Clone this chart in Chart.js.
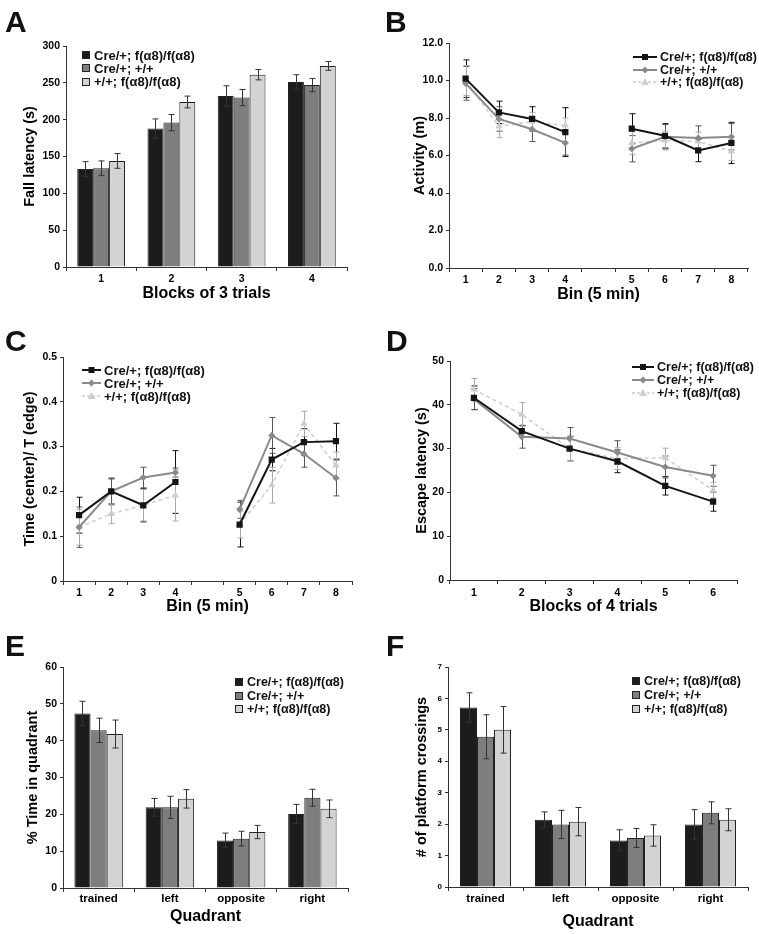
<!DOCTYPE html>
<html>
<head>
<meta charset="utf-8">
<script src="https://cdn.jsdelivr.net/npm/chart.js@4.4.1/dist/chart.umd.min.js"></script>
<style>
body { margin: 0; background: #fff; width: 759px; height: 934px; position: relative; overflow: hidden;
       font-family: 'Liberation Sans', Arial, sans-serif; }
canvas { position: absolute; }
.letter { position: absolute; font-size: 30px; font-weight: bold; line-height: 30px; color: #111; }
.legend { position: absolute; font-weight: bold; white-space: nowrap; color: #111; }
.legend .row { display: flex; align-items: center; }
.legend .sw { display: inline-block; width: 6px; height: 6px; border: 1px solid #222; margin-right: 4px; }
.legend svg { margin-right: 3px; }
</style>
</head>
<body>
<canvas id="cA" width="380" height="310" style="left:0;top:0"></canvas>
<canvas id="cB" width="379" height="310" style="left:380px;top:0"></canvas>
<canvas id="cC" width="380" height="310" style="left:0;top:310px"></canvas>
<canvas id="cD" width="379" height="310" style="left:380px;top:310px"></canvas>
<canvas id="cE" width="380" height="314" style="left:0;top:620px"></canvas>
<canvas id="cF" width="379" height="314" style="left:380px;top:620px"></canvas>

<div class="letter" style="left:5px;top:7px">A</div>
<div class="letter" style="left:385px;top:7px">B</div>
<div class="letter" style="left:5px;top:326px">C</div>
<div class="letter" style="left:386px;top:326px">D</div>
<div class="letter" style="left:5px;top:631px">E</div>
<div class="letter" style="left:386px;top:631px">F</div>

<script>
// --- Series names and labels ---
const seriesNames = ['Cre/+; f(\u03b18)/f(\u03b18)', 'Cre/+; +/+', '+/+; f(\u03b18)/f(\u03b18)'];
const blocks3 = ['1', '2', '3', '4'];
const bins = ['1', '2', '3', '4', '', '5', '6', '7', '8'];
const blocks4 = ['1', '2', '3', '4', '5', '6'];
const quadrants = ['trained', 'left', 'opposite', 'right'];

// --- A: fall latency (s) ---
const fallCreFlox = [133, 188, 232, 251];
const fallCreWt = [134, 196, 230, 247];
const fallWtFlox = [144, 224, 261, 273];
const fallCreFloxErr = [10, 13, 14, 10];
const fallCreWtErr = [10, 11, 11, 9];
const fallWtFloxErr = [10, 8, 7, 6];

// --- B: activity (m), gap between bin 4 and 5 ---
const actCreFlox = [10.1, 8.3, 7.95, 7.25, null, 7.43, 7.05, 6.27, 6.67];
const actCreWt = [9.85, 7.95, 7.4, 6.67, null, 6.36, 7.0, 6.93, 7.0];
const actWtFlox = [10.0, 7.55, 7.8, 7.6, null, 6.67, 6.8, 6.75, 6.22];
const actCreFloxErr = [1.0, 0.6, 0.65, 1.3, null, 0.8, 0.65, 0.6, 1.1];
const actCreWtErr = [0.9, 0.65, 0.65, 0.65, null, 0.7, 0.65, 0.65, 0.7];
const actWtFloxErr = [0.8, 0.6, 0.5, 0.4, null, 0.6, 0.5, 0.5, 0.5];

// --- C: time center / time edge ---
const ratioCreFlox = [0.147, 0.2, 0.169, 0.221, null, 0.126, 0.271, 0.31, 0.312];
const ratioCreWt = [0.12, 0.2, 0.231, 0.242, null, 0.16, 0.325, 0.284, 0.23];
const ratioWtFlox = [0.12, 0.15, 0.169, 0.191, null, 0.126, 0.214, 0.351, 0.258];
const ratioCreFloxErr = [0.04, 0.028, 0.037, 0.07, null, 0.05, 0.025, 0.03, 0.04];
const ratioCreWtErr = [0.045, 0.03, 0.023, 0.01, null, 0.02, 0.04, 0.03, 0.04];
const ratioWtFloxErr = [0.04, 0.022, 0.035, 0.057, null, 0.03, 0.04, 0.028, 0.03];

// --- D: escape latency (s) ---
const escCreFlox = [41.6, 34.0, 30.0, 27.1, 21.5, 17.9];
const escCreWt = [41.3, 32.7, 32.3, 29.1, 25.8, 23.8];
const escWtFlox = [43.5, 37.8, 30.0, 27.7, 27.9, 20.5];
const escCreFloxErr = [2.7, 1.3, 2.8, 2.6, 2.1, 2.2];
const escCreWtErr = [2.4, 2.6, 2.5, 2.7, 2.5, 2.4];
const escWtFloxErr = [2.5, 2.7, 2.7, 2.5, 2.2, 1.8];

// --- E: % time in quadrant ---
const quadCreFlox = [47.4, 21.9, 12.9, 20.1];
const quadCreWt = [42.8, 21.9, 13.4, 24.5];
const quadWtFlox = [41.8, 24.2, 15.2, 21.5];
const quadCreFloxErr = [3.3, 2.4, 2.0, 2.6];
const quadCreWtErr = [3.3, 3.0, 2.0, 2.3];
const quadWtFloxErr = [3.8, 2.5, 1.8, 2.4];

// --- F: # of platform crossings ---
const crossCreFlox = [5.71, 2.14, 1.48, 1.99];
const crossCreWt = [4.78, 1.99, 1.56, 2.36];
const crossWtFlox = [5.0, 2.08, 1.64, 2.14];
const crossCreFloxErr = [0.47, 0.25, 0.34, 0.47];
const crossCreWtErr = [0.7, 0.45, 0.3, 0.35];
const crossWtFloxErr = [0.74, 0.45, 0.34, 0.35];

// --- Styles ---
const barColors = ['#1c1c1c', '#7e7e7e', '#d3d3d3'];
const lineColors = ['#141414', '#8a8a8a', '#cdcdcd'];
const lineErrColors = ['#111', '#555', '#aaa'];
const pointStyles = ['rect', 'rectRot', 'triangle'];
const pointSizes = [4.4, 3.6, 4.2];

Chart.defaults.font.family = "'Liberation Sans', Arial, sans-serif";
Chart.defaults.font.weight = 'bold';
Chart.defaults.color = '#000';

// error bars drawn from each dataset's "errors" array through the y scale
const errorBars = {
    id: 'errorBars',
    draw(chart) {
        const ctx = chart.ctx;
        const yScale = chart.scales.y;
        chart.data.datasets.forEach((ds, i) => {
            if (!ds.errors) return;
            const meta = chart.getDatasetMeta(i);
            ctx.save();
            ctx.strokeStyle = ds.errorColor || '#333';
            ctx.lineWidth = 1;
            meta.data.forEach((el, j) => {
                const v = ds.data[j], e = ds.errors[j];
                if (v == null || e == null) return;
                const x = Math.round(el.x) + 0.5;
                const top = yScale.getPixelForValue(v + e);
                const bot = yScale.getPixelForValue(v - e);
                ctx.beginPath();
                ctx.moveTo(x, top); ctx.lineTo(x, bot);
                ctx.moveTo(x - 3, top); ctx.lineTo(x + 3, top);
                ctx.moveTo(x - 3, bot); ctx.lineTo(x + 3, bot);
                ctx.stroke();
            });
            ctx.restore();
        });
    },
    beforeDatasetsDraw(chart, args, opts) { if (opts.under) this.draw(chart); },
    afterDatasetsDraw(chart, args, opts) { if (!opts.under) this.draw(chart); }
};

function barSets(means, errs) {
    return means.map((m, i) => ({
        label: seriesNames[i], data: m, errors: errs[i], errorColor: '#333',
        backgroundColor: barColors[i], borderColor: '#222', borderWidth: 1,
        categoryPercentage: 0.68, barPercentage: 1
    }));
}

function lineSets(means, errs) {
    return means.map((m, i) => ({
        label: seriesNames[i], data: m, errors: errs[i], errorColor: lineErrColors[i],
        borderColor: lineColors[i], backgroundColor: lineColors[i],
        borderWidth: i === 2 ? 1.5 : 2, borderDash: i === 2 ? [4, 3] : [],
        pointStyle: pointStyles[i], pointRadius: pointSizes[i], pointBorderWidth: 0,
        spanGaps: false, tension: 0
    }));
}

function buildChart(id, type, labels, datasets, ax) {
    return new Chart(document.getElementById(id), {
        type: type,
        data: { labels: labels, datasets: datasets },
        options: {
            responsive: false, animation: false, devicePixelRatio: 1,
            layout: { padding: ax.pad },
            plugins: { legend: { display: false }, tooltip: { enabled: false }, errorBars: { under: type === 'line' } },
            scales: {
                x: {
                    offset: true,
                    grid: { display: true, drawOnChartArea: false, offset: true, tickLength: 4, color: '#333' },
                    border: { display: true, color: '#333', width: 1 },
                    ticks: { font: { size: ax.xTick, weight: 'bold' }, padding: ax.xTickPad, maxRotation: 0, autoSkip: false },
                    title: { display: true, text: ax.xTitle, font: { size: 16, weight: 'bold' }, padding: { top: 0, bottom: ax.xTitlePad } },
                    afterFit: s => { s.height = ax.xH; }
                },
                y: {
                    min: ax.min, max: ax.max,
                    grid: { display: true, drawOnChartArea: false, tickLength: 3, color: '#333' },
                    border: { display: true, color: '#333', width: 1 },
                    ticks: { stepSize: ax.step, font: { size: ax.yTick, weight: 'bold' }, padding: 3, callback: ax.fmt },
                    title: { display: true, text: ax.yTitle, font: { size: 14.5, weight: 'bold' }, padding: { top: ax.yTitlePad, bottom: 0 } },
                    afterFit: s => { s.width = ax.yW; }
                }
            }
        },
        plugins: [errorBars]
    });
}

// --- HTML legends ---
function markerSvg(i, w) {
    const c = lineColors[i], mid = w / 2;
    let mark;
    if (i === 0) mark = `<rect x="${mid - 3}" y="2" width="6" height="6" fill="${c}"/>`;
    else if (i === 1) mark = `<polygon points="${mid},1.5 ${mid + 3.5},5 ${mid},8.5 ${mid - 3.5},5" fill="${c}"/>`;
    else mark = `<polygon points="${mid},1 ${mid + 4},8 ${mid - 4},8" fill="${c}"/>`;
    const dash = i === 2 ? ' stroke-dasharray="3,2"' : '';
    return `<svg width="${w}" height="10"><line x1="0" y1="5" x2="${w}" y2="5" stroke="${c}" stroke-width="${i === 2 ? 1.5 : 2}"${dash}/>${mark}</svg>`;
}

function addLegend(left, firstRow, rowH, size, kind, svgW) {
    const box = document.createElement('div');
    box.className = 'legend';
    box.style.left = left + 'px';
    box.style.top = (firstRow - rowH / 2) + 'px';
    box.style.fontSize = size + 'px';
    seriesNames.forEach((name, i) => {
        const row = document.createElement('div');
        row.className = 'row';
        row.style.height = rowH + 'px';
        const mark = kind === 'bar'
            ? `<span class="sw" style="background:${barColors[i]}"></span>`
            : markerSvg(i, svgW);
        row.innerHTML = mark + '<span>' + name + '</span>';
        box.appendChild(row);
    });
    document.body.appendChild(box);
}

const oneDec = v => v.toFixed(1);
const ratioFmt = v => (Math.abs(v) < 1e-9 ? '0' : v.toFixed(1));

buildChart('cA', 'bar', blocks3, barSets([fallCreFlox, fallCreWt, fallWtFlox], [fallCreFloxErr, fallCreWtErr, fallWtFloxErr]), {
    pad: { left: 0, top: 46, right: 33, bottom: 0 }, yW: 66, xH: 43,
    min: 0, max: 300, step: 50, yTick: 10.5, xTick: 10.5, xTickPad: 2,
    xTitle: 'Blocks of 3 trials', xTitlePad: 6.4, yTitle: 'Fall latency (s)', yTitlePad: 21
});

buildChart('cB', 'line', bins, lineSets([actCreFlox, actCreWt, actWtFlox], [actCreFloxErr, actCreWtErr, actWtFloxErr]), {
    pad: { left: 0, top: 43, right: 11, bottom: 0 }, yW: 69, xH: 42,
    min: 0, max: 12, step: 2, fmt: oneDec, yTick: 10.5, xTick: 10.5, xTickPad: 2,
    xTitle: 'Bin (5 min)', xTitlePad: 6, yTitle: 'Activity (m)', yTitlePad: 31
});

buildChart('cC', 'line', bins, lineSets([ratioCreFlox, ratioCreWt, ratioWtFlox], [ratioCreFloxErr, ratioCreWtErr, ratioWtFloxErr]), {
    pad: { left: 0, top: 47, right: 28, bottom: 0 }, yW: 63, xH: 39,
    min: 0, max: 0.5, step: 0.1, fmt: ratioFmt, yTick: 10.5, xTick: 10.5, xTickPad: 2,
    xTitle: 'Bin (5 min)', xTitlePad: 3.4, yTitle: 'Time (center)/ T (edge)', yTitlePad: 21
});

buildChart('cD', 'line', blocks4, lineSets([escCreFlox, escCreWt, escWtFlox], [escCreFloxErr, escCreWtErr, escWtFloxErr]), {
    pad: { left: 0, top: 51, right: 22, bottom: 0 }, yW: 70, xH: 40,
    min: 0, max: 50, step: 10, yTick: 10.5, xTick: 10.5, xTickPad: 3,
    xTitle: 'Blocks of 4 trials', xTitlePad: 3.4, yTitle: 'Escape latency (s)', yTitlePad: 33
});

buildChart('cE', 'bar', quadrants, barSets([quadCreFlox, quadCreWt, quadWtFlox], [quadCreFloxErr, quadCreWtErr, quadWtFloxErr]), {
    pad: { left: 0, top: 47, right: 32, bottom: 0 }, yW: 63, xH: 46,
    min: 0, max: 60, step: 10, yTick: 10.5, xTick: 11.5, xTickPad: 0,
    xTitle: 'Quadrant', xTitlePad: 7.7, yTitle: '% Time in quadrant', yTitlePad: 24
});

buildChart('cF', 'bar', quadrants, barSets([crossCreFlox, crossCreWt, crossWtFlox], [crossCreFloxErr, crossCreWtErr, crossWtFloxErr]), {
    pad: { left: 0, top: 47, right: 11, bottom: 0 }, yW: 68, xH: 47,
    min: 0, max: 7, step: 1, yTick: 8, xTick: 11.5, xTickPad: 1,
    xTitle: 'Quadrant', xTitlePad: 2.7, yTitle: '# of platform crossings', yTitlePad: 33
});

addLegend(82, 55, 13.3, 13, 'bar');
addLegend(633, 57, 12.5, 12.5, 'line', 24);
addLegend(82, 370, 13, 13, 'line', 19);
addLegend(632, 367, 13, 12.5, 'line', 22);
addLegend(235, 682, 13.5, 12.5, 'bar');
addLegend(632, 681, 14, 12.5, 'bar');
</script>
</body>
</html>
